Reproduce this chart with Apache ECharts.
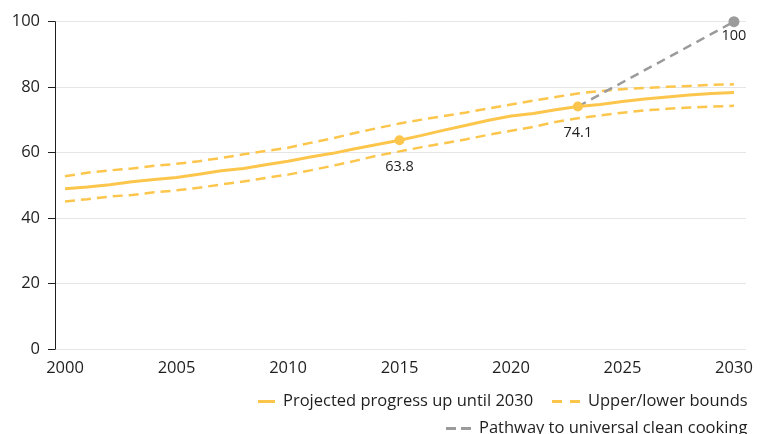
<!DOCTYPE html>
<html>
<head>
<meta charset="utf-8">
<script src="https://cdn.jsdelivr.net/npm/echarts@6/dist/echarts.min.js"></script>
<style>html,body{margin:0;padding:0;background:#fff;}#c{width:766px;height:434px;}</style>
</head>
<body>
<div id="c"></div>
<script>
const years = [2000,2001,2002,2003,2004,2005,2006,2007,2008,2009,2010,2011,2012,2013,2014,2015,2016,2017,2018,2019,2020,2021,2022,2023,2024,2025,2026,2027,2028,2029,2030];
const projected = [49.0,49.5,50.2,51.1,51.8,52.4,53.4,54.5,55.2,56.3,57.4,58.7,59.8,61.2,62.5,63.8,65.3,66.9,68.4,69.9,71.2,72.0,73.1,74.1,74.7,75.6,76.4,77.0,77.6,78.1,78.4];
const upper = [52.8,53.9,54.6,55.2,56.0,56.6,57.4,58.4,59.5,60.5,61.5,63.0,64.4,66.0,67.5,68.9,70.1,71.2,72.3,73.5,74.7,75.9,77.0,78.1,78.8,79.4,79.8,80.1,80.4,80.7,80.9];
const lower = [45.1,45.8,46.6,47.1,47.9,48.5,49.3,50.3,51.2,52.3,53.3,54.6,56.0,57.5,59.1,60.4,61.7,62.9,64.1,65.5,66.7,67.9,69.4,70.5,71.4,72.2,72.9,73.4,73.8,74.1,74.3];
const pathwayYears = [2023, 2030];
const pathwayValues = [74.1, 100];
const labelledYears = [2015, 2023];
const xTicks = [2000,2005,2010,2015,2020,2025,2030];
const yTicks = [0,20,40,60,80,100];

const ORANGE = '#FCC64C';
const GRAY = '#9B9B9B';
const TEXT = '#1f1f1f';
const FONT = 'Open Sans';

const pair = (xs, ys) => xs.map((x, i) => [x, ys[i]]);
const projData = years.map((y, i) => {
  const d = {value: [y, projected[i]]};
  if (labelledYears.includes(y)) {
    d.symbol = 'circle'; d.symbolSize = 10;
    d.label = {show: true, position: 'bottom', distance: 14, formatter: String(projected[i]), color: TEXT, fontSize: 14.5, fontFamily: FONT};
  }
  return d;
});
const pathData = pathwayYears.map((y, i) => {
  const d = {value: [y, pathwayValues[i]]};
  if (i === pathwayYears.length - 1) {
    d.symbol = 'circle'; d.symbolSize = 11;
    d.label = {show: true, position: 'bottom', distance: 1, formatter: String(pathwayValues[i]), color: TEXT, fontSize: 14.5, fontFamily: FONT};
  }
  return d;
});

const legendText = {fontSize: 16.5, color: TEXT, fontFamily: FONT, padding: [0, 0, 0, 3]};
const DASH2 = 'path://M0,0H10V3H0ZM18,0H28V3H18Z';
const DASH3 = 'path://M0,0H10V3H0ZM15,0H25V3H15Z';

const chart = echarts.init(document.getElementById('c'), null, {renderer: 'canvas'});
chart.setOption({
  animation: false,
  textStyle: {fontFamily: FONT},
  grid: {left: 55, right: 20, top: 21.7, bottom: 84.8, containLabel: false},
  legend: [
    {
      left: 258, top: 393, padding: 0, itemWidth: 17, itemHeight: 3, itemGap: 8, symbolKeepAspect: false,
      textStyle: legendText,
      data: [{name: 'Projected progress up until 2030', icon: 'rect', itemStyle: {color: ORANGE}}]
    },
    {
      left: 552, top: 393, padding: 0, itemWidth: 28, itemHeight: 3, symbolKeepAspect: false,
      textStyle: legendText,
      data: [{name: 'Upper/lower bounds', icon: DASH2, itemStyle: {color: ORANGE}}]
    },
    {
      left: 446, top: 420, padding: 0, itemWidth: 25, itemHeight: 3, symbolKeepAspect: false,
      textStyle: legendText,
      data: [{name: 'Pathway to universal clean cooking', icon: DASH3, itemStyle: {color: GRAY}}]
    }
  ],
  xAxis: {
    type: 'value', min: 1999.55, max: 2030.54,
    axisLine: {show: false}, axisTick: {show: false}, splitLine: {show: false},
    axisLabel: {customValues: xTicks, fontSize: 16.5, color: TEXT, margin: 11, fontFamily: FONT, formatter: v => String(v)}
  },
  yAxis: {
    type: 'value', min: 0, max: 100, interval: 20,
    axisLine: {show: true, lineStyle: {color: TEXT, width: 1}},
    axisTick: {show: true, length: 7, lineStyle: {color: TEXT}},
    axisLabel: {customValues: yTicks, fontSize: 16.5, color: TEXT, margin: 15, fontFamily: FONT},
    splitLine: {show: true, lineStyle: {color: '#e6e6e6', width: 1}}
  },
  series: [
    {name: 'Upper/lower bounds', type: 'line', data: pair(years, upper), showSymbol: false, symbol: 'none',
     lineStyle: {color: ORANGE, width: 2.5, type: [10, 6]}, itemStyle: {color: ORANGE}, z: 2},
    {name: 'Upper/lower bounds', type: 'line', data: pair(years, lower), showSymbol: false, symbol: 'none',
     lineStyle: {color: ORANGE, width: 2.5, type: [10, 6]}, itemStyle: {color: ORANGE}, z: 2},
    {name: 'Pathway to universal clean cooking', type: 'line', data: pathData, symbol: 'none', showSymbol: true,
     lineStyle: {color: GRAY, width: 2.5, type: [9, 6]}, itemStyle: {color: GRAY}, z: 3},
    {name: 'Projected progress up until 2030', type: 'line', data: projData, symbol: 'none', showSymbol: true,
     lineStyle: {color: ORANGE, width: 3}, itemStyle: {color: ORANGE}, z: 4}
  ]
});
</script>
</body>
</html>
